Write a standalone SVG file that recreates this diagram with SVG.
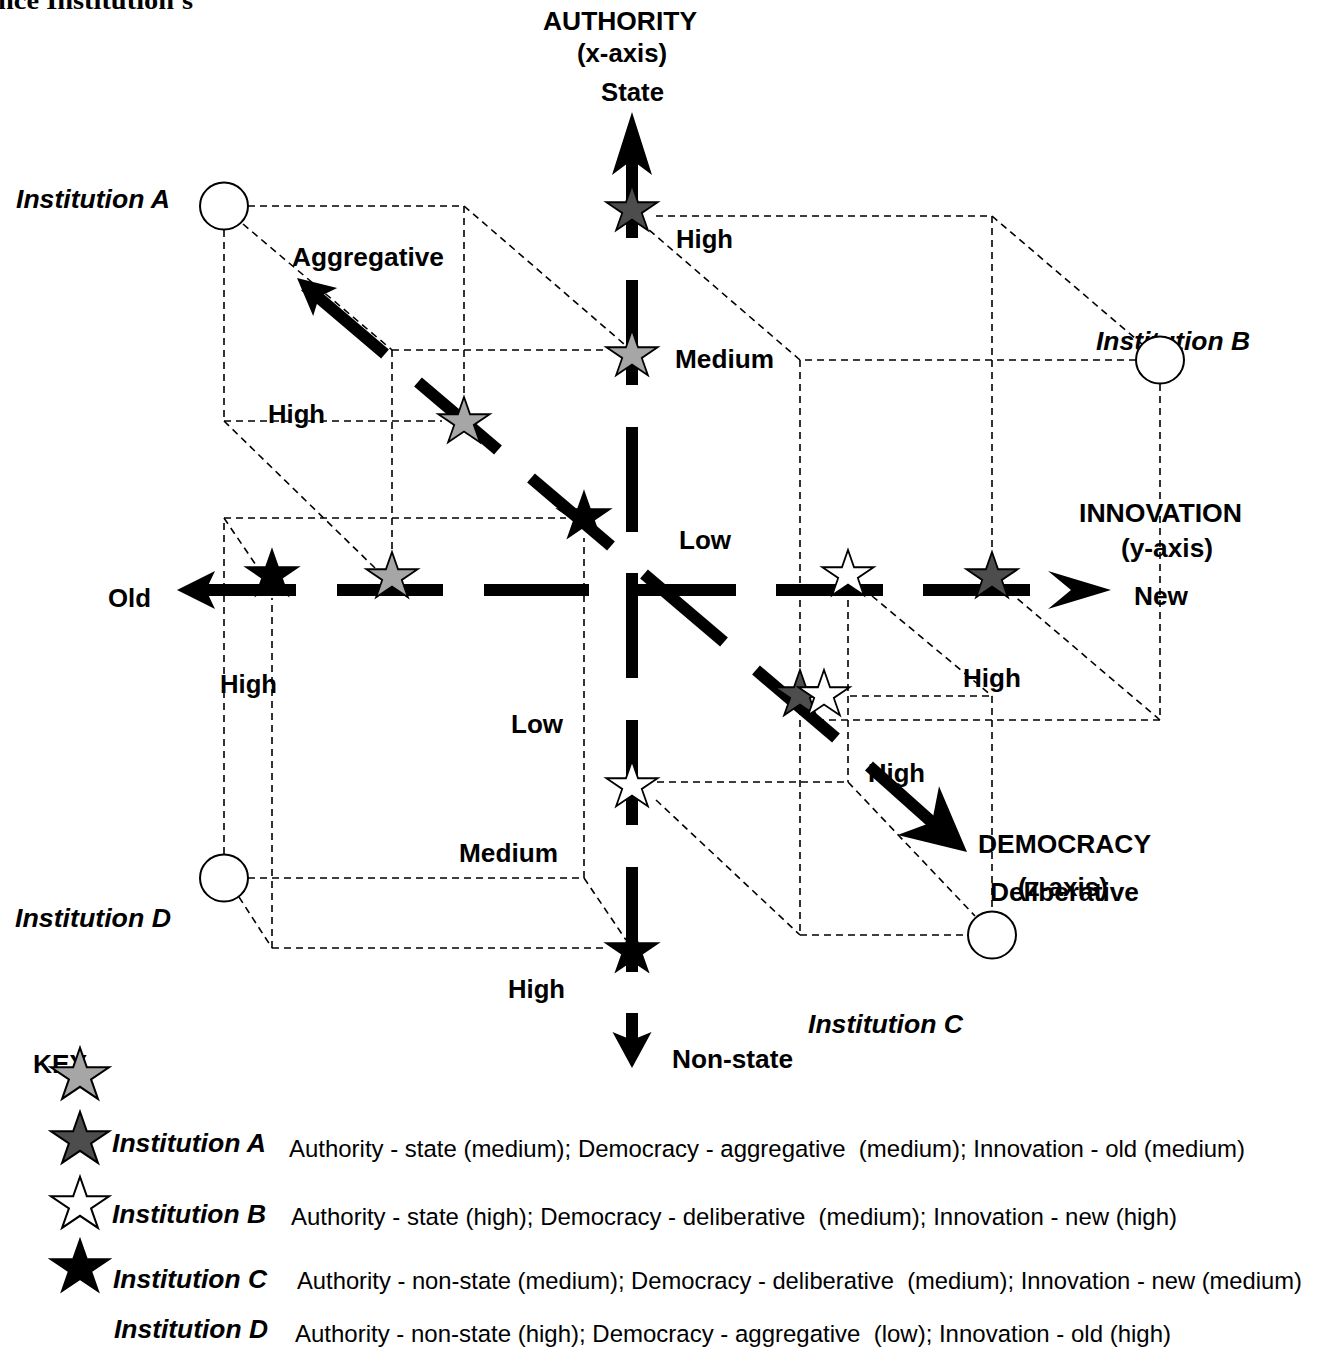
<svg xmlns="http://www.w3.org/2000/svg" xmlns:xlink="http://www.w3.org/1999/xlink" width="1317" height="1349" viewBox="0 0 1317 1349">
<style>
.axis{stroke:#000;stroke-width:12;fill:none;stroke-linecap:butt}
.dash{stroke:#000;stroke-width:1.6;stroke-dasharray:7 5;fill:none}
.head{fill:#000;stroke:none}
.lbl{font-family:"Liberation Sans",Arial,Helvetica,sans-serif;font-weight:bold;font-size:25px;fill:#000}
.inst{font-family:"Liberation Sans",Arial,Helvetica,sans-serif;font-weight:bold;font-style:italic;font-size:25px;fill:#000}
.desc{font-family:"Liberation Sans",Arial,Helvetica,sans-serif;font-size:24.5px;fill:#000;white-space:pre}
.title{font-family:"Liberation Serif","Times New Roman",serif;font-weight:bold;font-size:25px;fill:#000}
.node{fill:#fff;stroke:#000;stroke-width:2}
.star{stroke:#000;stroke-width:1.8;stroke-linejoin:miter}
.grey{fill:#A6A6A6}
.dark{fill:#4D4D4D}
.white{fill:#FFFFFF}
.black{fill:#000000}
</style>
<defs>
<path id="star" d="M0,-25 L6.06,-7.73 L25.68,-7.73 L9.8,2.95 L15.87,20.23 L0,9.55 L-15.87,20.23 L-9.8,2.95 L-25.68,-7.73 L-6.06,-7.73 Z"/>
</defs>
<rect x="0" y="0" width="1317" height="1349" fill="#fff"/>

<text class="title" x="-2" y="9" textLength="195" lengthAdjust="spacingAndGlyphs">nce Institution's</text>

<g id="connectors">
  <!-- authority axis (vertical) -->
  <line class="axis" x1="632" y1="150" x2="632" y2="238"/>
  <line class="axis" x1="632" y1="280" x2="632" y2="385"/>
  <line class="axis" x1="632" y1="427" x2="632" y2="532"/>
  <line class="axis" x1="632" y1="573" x2="632" y2="678"/>
  <line class="axis" x1="632" y1="720" x2="632" y2="825"/>
  <line class="axis" x1="632" y1="867" x2="632" y2="972"/>
  <line class="axis" x1="632" y1="1013" x2="632" y2="1042"/>
  <path class="head" d="M0,0 L-63,-20 L-48,0 L-63,20 Z" transform="translate(632,112) rotate(-90)"/>
  <path class="head" d="M0,0 L-36,-19.5 L-28,0 L-36,19.5 Z" transform="translate(632,1068) rotate(90)"/>
  <!-- innovation axis (horizontal) -->
  <line class="axis" x1="626" y1="590" x2="736" y2="590"/>
  <line class="axis" x1="776" y1="590" x2="883" y2="590"/>
  <line class="axis" x1="923" y1="590" x2="1030" y2="590"/>
  <path class="head" d="M0,0 L-63,-19 L-40,0 L-63,19 Z" transform="translate(1111,590)"/>
  <line class="axis" x1="484" y1="590" x2="589" y2="590"/>
  <line class="axis" x1="337" y1="590" x2="443" y2="590"/>
  <line class="axis" x1="205" y1="590" x2="296" y2="590"/>
  <path class="head" d="M0,0 L-38,-19 L-29,0 L-38,19 Z" transform="translate(177,590) rotate(180)"/>
  <!-- democracy axis (diagonal) -->
  <line class="axis" x1="305" y1="286" x2="385" y2="354"/>
  <line class="axis" x1="418" y1="382" x2="498" y2="450"/>
  <line class="axis" x1="531" y1="478" x2="611" y2="546"/>
  <line class="axis" x1="644" y1="574" x2="724" y2="642"/>
  <line class="axis" x1="756" y1="670" x2="836" y2="738"/>
  <line class="axis" x1="869" y1="766" x2="934" y2="824"/>
  <path class="head" d="M0,0 L-37,-18.5 L-29,0 L-37,18.5 Z" transform="translate(297,278) rotate(220.4)"/>
  <path class="head" d="M0,0 L-64,-32 L-46,0 L-64,32 Z" transform="translate(967,852) rotate(40.4)"/>

  <!-- projection lines: light grey point (corner Institution A) -->
  <line class="dash" x1="248" y1="206" x2="464" y2="206"/>
  <line class="dash" x1="464" y1="206" x2="464" y2="400"/>
  <line class="dash" x1="464" y1="206" x2="624" y2="344"/>
  <line class="dash" x1="224" y1="230" x2="224" y2="421"/>
  <line class="dash" x1="224" y1="421" x2="442" y2="421"/>
  <line class="dash" x1="224" y1="421" x2="375" y2="568"/>
  <line class="dash" x1="243" y1="224" x2="392" y2="350"/>
  <line class="dash" x1="392" y1="350" x2="607" y2="350"/>
  <line class="dash" x1="392" y1="350" x2="392" y2="556"/>

  <!-- projection lines: black point (corner Institution D) -->
  <line class="dash" x1="248" y1="878" x2="584" y2="878"/>
  <line class="dash" x1="584" y1="878" x2="584" y2="538"/>
  <line class="dash" x1="584" y1="878" x2="626" y2="940"/>
  <line class="dash" x1="224" y1="854" x2="224" y2="518"/>
  <line class="dash" x1="224" y1="518" x2="566" y2="518"/>
  <line class="dash" x1="224" y1="518" x2="260" y2="571"/>
  <line class="dash" x1="239" y1="897" x2="272" y2="948"/>
  <line class="dash" x1="272" y1="948" x2="607" y2="948"/>
  <line class="dash" x1="272" y1="948" x2="272" y2="598"/>

  <!-- projection lines: dark grey point (corner Institution B) -->
  <line class="dash" x1="1136" y1="360" x2="800" y2="360"/>
  <line class="dash" x1="800" y1="360" x2="648" y2="229"/>
  <line class="dash" x1="656" y1="216" x2="992" y2="216"/>
  <line class="dash" x1="992" y1="216" x2="1143" y2="345"/>
  <line class="dash" x1="992" y1="216" x2="992" y2="552"/>
  <line class="dash" x1="800" y1="360" x2="800" y2="935"/>
  <line class="dash" x1="1160" y1="384" x2="1160" y2="720"/>
  <line class="dash" x1="1160" y1="720" x2="822" y2="720"/>
  <line class="dash" x1="1160" y1="720" x2="1012" y2="594"/>

  <!-- projection lines: white point (corner Institution C) -->
  <line class="dash" x1="850" y1="696" x2="992" y2="696"/>
  <line class="dash" x1="992" y1="696" x2="992" y2="911"/>
  <line class="dash" x1="848" y1="600" x2="848" y2="782"/>
  <line class="dash" x1="657" y1="782" x2="848" y2="782"/>
  <line class="dash" x1="848" y1="782" x2="975" y2="916"/>
  <line class="dash" x1="872" y1="596" x2="992" y2="696"/>
  <line class="dash" x1="656" y1="800" x2="800" y2="935"/>
  <line class="dash" x1="800" y1="935" x2="968" y2="935"/>
</g>

<g id="axis-labels">
  <text class="lbl" x="543" y="30" textLength="154" lengthAdjust="spacingAndGlyphs">AUTHORITY</text>
  <text class="lbl" x="577" y="62" textLength="90" lengthAdjust="spacingAndGlyphs">(x-axis)</text>
  <text class="lbl" x="601" y="101" textLength="63" lengthAdjust="spacingAndGlyphs">State</text>
  <text class="lbl" x="672" y="1068" textLength="121" lengthAdjust="spacingAndGlyphs">Non-state</text>
  <text class="lbl" x="1079" y="522" textLength="163" lengthAdjust="spacingAndGlyphs">INNOVATION</text>
  <text class="lbl" x="1121" y="557" textLength="92" lengthAdjust="spacingAndGlyphs">(y-axis)</text>
  <text class="lbl" x="1134" y="605" textLength="54" lengthAdjust="spacingAndGlyphs">New</text>
  <text class="lbl" x="108" y="607" textLength="43" lengthAdjust="spacingAndGlyphs">Old</text>
  <text class="lbl" x="978" y="853" textLength="173" lengthAdjust="spacingAndGlyphs">DEMOCRACY</text>
  <text class="lbl" x="1018" y="896" textLength="90" lengthAdjust="spacingAndGlyphs">(z-axis)</text>
  <text class="lbl" x="990" y="901" textLength="149" lengthAdjust="spacingAndGlyphs">Deliberative</text>
  <text class="lbl" x="292" y="266" textLength="152" lengthAdjust="spacingAndGlyphs">Aggregative</text>
</g>

<g id="level-labels">
  <text class="lbl" x="676" y="248" textLength="57" lengthAdjust="spacingAndGlyphs">High</text>
  <text class="lbl" x="675" y="368" textLength="99" lengthAdjust="spacingAndGlyphs">Medium</text>
  <text class="lbl" x="679" y="549" textLength="52" lengthAdjust="spacingAndGlyphs">Low</text>
  <text class="lbl" x="268" y="423" textLength="57" lengthAdjust="spacingAndGlyphs">High</text>
  <text class="lbl" x="220" y="693" textLength="57" lengthAdjust="spacingAndGlyphs">High</text>
  <text class="lbl" x="963" y="687" textLength="58" lengthAdjust="spacingAndGlyphs">High</text>
  <text class="lbl" x="511" y="733" textLength="52" lengthAdjust="spacingAndGlyphs">Low</text>
  <text class="lbl" x="868" y="782" textLength="57" lengthAdjust="spacingAndGlyphs">High</text>
  <text class="lbl" x="459" y="862" textLength="99" lengthAdjust="spacingAndGlyphs">Medium</text>
  <text class="lbl" x="508" y="998" textLength="57" lengthAdjust="spacingAndGlyphs">High</text>
</g>

<g id="institution-a">
  <text class="inst" x="16" y="208" textLength="154" lengthAdjust="spacingAndGlyphs">Institution A</text>
  <ellipse class="node" cx="224" cy="206" rx="24" ry="23.5"/>
</g>
<g id="institution-b">
  <text class="inst" x="1096" y="350" textLength="154" lengthAdjust="spacingAndGlyphs">Institution B</text>
  <ellipse class="node" cx="1160" cy="360" rx="24" ry="23.5"/>
</g>
<g id="institution-c">
  <ellipse class="node" cx="992" cy="935" rx="24" ry="23.5"/>
  <text class="inst" x="808" y="1033" textLength="155" lengthAdjust="spacingAndGlyphs">Institution C</text>
</g>
<g id="institution-d">
  <ellipse class="node" cx="224" cy="878" rx="24" ry="23.5"/>
  <text class="inst" x="15" y="927" textLength="156" lengthAdjust="spacingAndGlyphs">Institution D</text>
</g>

<g id="stars-grey">
  <use href="#star" class="star grey" x="632" y="355"/>
  <use href="#star" class="star grey" x="464" y="422"/>
  <use href="#star" class="star grey" x="392" y="577"/>
</g>
<g id="stars-black">
  <use href="#star" class="star black" x="584" y="517"/>
  <use href="#star" class="star black" x="272" y="575"/>
  <use href="#star" class="star black" x="632" y="951"/>
</g>
<g id="stars-dark">
  <use href="#star" class="star dark" x="632" y="210"/>
  <use href="#star" class="star dark" x="992" y="577"/>
  <use href="#star" class="star dark" x="800" y="695"/>
</g>
<g id="stars-white">
  <use href="#star" class="star white" x="848" y="575"/>
  <use href="#star" class="star white" x="824" y="695"/>
  <use href="#star" class="star white" x="632" y="786"/>
</g>

<g id="key">
  <text class="lbl" x="33" y="1073" textLength="54" lengthAdjust="spacingAndGlyphs">KEY</text>
  <use href="#star" class="star grey" transform="translate(80,1076) scale(1.13)"/>
  <g id="key-a">
    <use href="#star" class="star dark" transform="translate(80,1140) scale(1.13)"/>
    <text class="inst" x="112" y="1152" textLength="154" lengthAdjust="spacingAndGlyphs">Institution A</text>
    <text class="desc" x="289" y="1157" textLength="956" lengthAdjust="spacingAndGlyphs" xml:space="preserve">Authority - state (medium); Democracy - aggregative  (medium); Innovation - old (medium)</text>
  </g>
  <g id="key-b">
    <use href="#star" class="star white" transform="translate(80,1205) scale(1.13)"/>
    <text class="inst" x="112" y="1223" textLength="154" lengthAdjust="spacingAndGlyphs">Institution B</text>
    <text class="desc" x="291" y="1225" textLength="886" lengthAdjust="spacingAndGlyphs" xml:space="preserve">Authority - state (high); Democracy - deliberative  (medium); Innovation - new (high)</text>
  </g>
  <g id="key-c">
    <use href="#star" class="star black" transform="translate(80,1268) scale(1.13)"/>
    <text class="inst" x="113" y="1288" textLength="154" lengthAdjust="spacingAndGlyphs">Institution C</text>
    <text class="desc" x="297" y="1289" textLength="1005" lengthAdjust="spacingAndGlyphs" xml:space="preserve">Authority - non-state (medium); Democracy - deliberative  (medium); Innovation - new (medium)</text>
  </g>
  <g id="key-d">
    <text class="inst" x="114" y="1338" textLength="154" lengthAdjust="spacingAndGlyphs">Institution D</text>
    <text class="desc" x="295" y="1342" textLength="876" lengthAdjust="spacingAndGlyphs" xml:space="preserve">Authority - non-state (high); Democracy - aggregative  (low); Innovation - old (high)</text>
  </g>
</g>
</svg>
